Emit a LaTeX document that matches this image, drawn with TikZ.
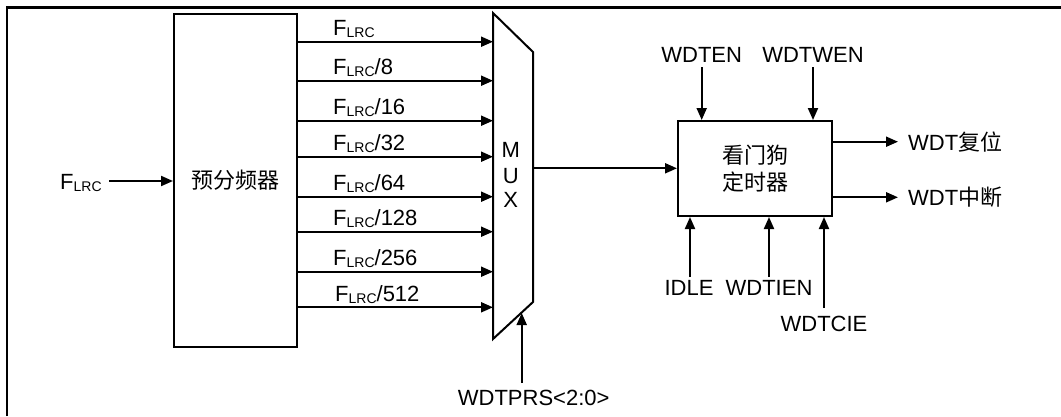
\documentclass[tikz,border=0pt]{standalone}
\usepackage{fontspec}
\setmainfont{Liberation Sans}
\newfontfamily\cjk{Noto Sans CJK SC}
\usetikzlibrary{arrows.meta}
\newcommand{\Flrc}{F{\fontsize{14}{14}\selectfont\raisebox{-2pt}{LRC}}}
\begin{document}
\begin{tikzpicture}[x=1pt,y=-1pt,
  every node/.style={font=\fontsize{22}{27}\selectfont, inner sep=0pt},
  blk/.style={draw, line width=2pt, fill=white},
  arr/.style={line width=2pt, -{Triangle[length=12pt,width=10pt]}},
  ln/.style={line width=2pt},
  lbl/.style={anchor=base west}]
\useasboundingbox (0,0) rectangle (1061,416);
\draw[line width=2.5pt] (7,416) -- (7,7.3) -- (1061,7.3);
% prescaler
\node[blk, minimum width=123pt, minimum height=333pt] (pre) at (235.5,180.5) {\cjk 预分频器};
\node[anchor=base west] (fin) at (60,189) {\Flrc};
\coordinate (finE) at (109,181);
\draw[arr] (finE) -- (pre.west |- finE);
% MUX
\coordinate (mTL) at (493,13);
\coordinate (mTR) at (533,52);
\coordinate (mBR) at (533,302);
\coordinate (mBL) at (493,339);
\draw[ln, line join=miter] (mTL) -- (mTR) -- (mBR) -- (mBL) -- cycle;
\node (mM) at (510.7,150) {M};
\node (mU) at (510.7,176) {U};
\node (mX) at (510.7,200) {X};
% prescaler outputs
\foreach \y/\t/\x [count=\i] in {41.7/{\Flrc}/333, 80.7/{\Flrc/8}/333, 120.7/{\Flrc/16}/333, 156.7/{\Flrc/32}/333, 196.7/{\Flrc/64}/333, 231.7/{\Flrc/128}/333, 271.7/{\Flrc/256}/333, 307.3/{\Flrc/512}/335}{
  \coordinate (in\i) at (493,\y);
  \draw[arr] (pre.east |- in\i) -- (in\i);
  \node[lbl] (ol\i) at (\x,\y-6) {\t};
}
% WDTPRS
\node (prs) at (533.7,398) {WDTPRS<2:0>};
\coordinate (prsS) at (521.7,383);
\coordinate (prsT) at (521.7,313);
\draw[arr] (prsS) -- (prsT);
% watchdog
\node[blk, minimum width=154pt, minimum height=95pt, align=center] (wdt) at (755,168.5) {\cjk 看门狗\\[0pt]\cjk 定时器};
\coordinate (mout) at (533,168.3);
\draw[arr] (mout) -- (wdt.west |- mout);
% top inputs
\node (en) at (701.7,55) {WDTEN};
\node (wen) at (813,55) {WDTWEN};
\coordinate (enS) at (701.7,67);
\coordinate (wenS) at (813,67);
\draw[arr] (enS) -- (wdt.north -| enS);
\draw[arr] (wenS) -- (wdt.north -| wenS);
% bottom inputs
\node (idle) at (689,288) {IDLE};
\node (tien) at (769,288) {WDTIEN};
\node (cie) at (824,324) {WDTCIE};
\coordinate (idleS) at (690,277);
\coordinate (tienS) at (769,277);
\coordinate (cieS) at (824,308);
\draw[arr] (idleS) -- (wdt.south -| idleS);
\draw[arr] (tienS) -- (wdt.south -| tienS);
\draw[arr] (cieS) -- (wdt.south -| cieS);
% outputs
\coordinate (rstE) at (898,141.7);
\coordinate (intE) at (898,197.3);
\draw[arr] (wdt.east |- rstE) -- (rstE);
\draw[arr] (wdt.east |- intE) -- (intE);
\node[anchor=west] (rst) at (908,141.7) {WDT{\cjk 复位}};
\node[anchor=west] (int) at (908,197.3) {WDT{\cjk 中断}};
\end{tikzpicture}
\end{document}
